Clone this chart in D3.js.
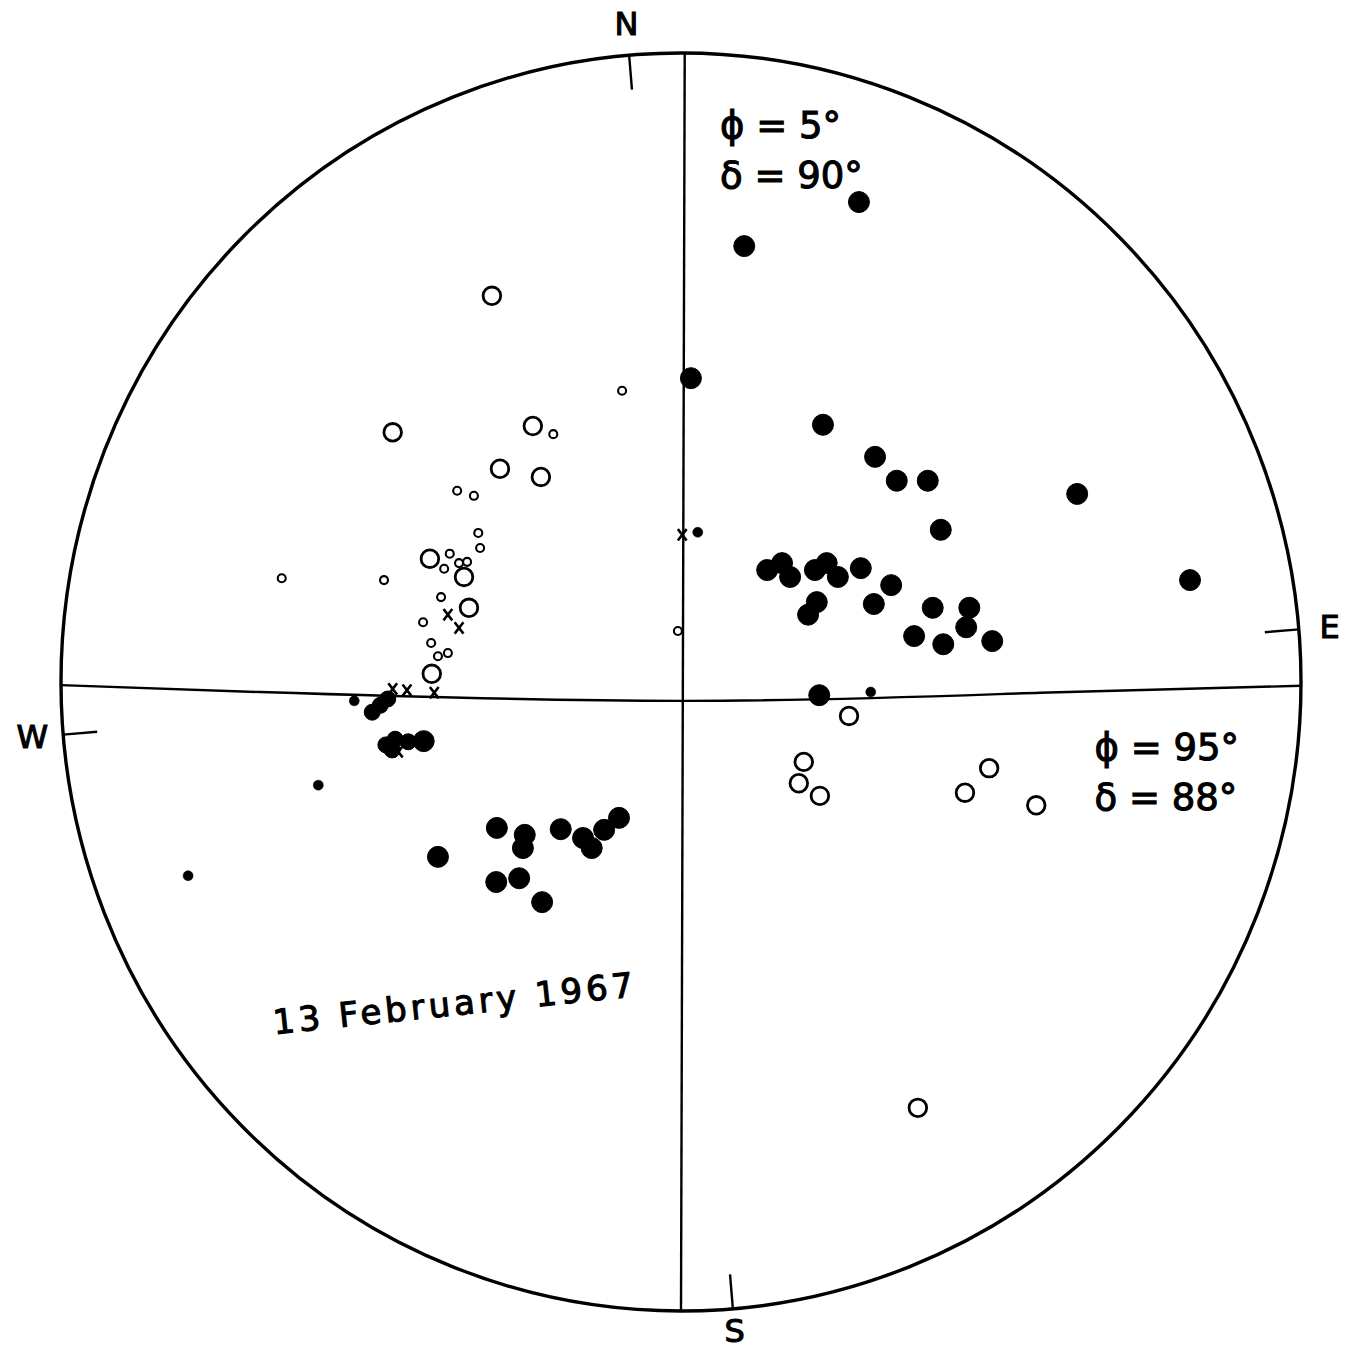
<!DOCTYPE html>
<html>
<head>
<meta charset="utf-8">
<script src="https://cdn.jsdelivr.net/npm/d3@7"></script>
<style>
	body { margin: 0; background: #fff; }
	svg { display: block; }
	text { font-family: "DejaVu Sans", sans-serif; fill: #000; stroke: #000; stroke-width: 1.1px; }
</style>
</head>
<body>
<div id="chart"></div>
<script>

// points in unit-radius coordinates of the net (x east, y north)
var bigDots = [
	[0.287, 0.763], [0.102, 0.693], [0.016, 0.483], [0.229, 0.409], [0.313, 0.358],
	[0.348, 0.320], [0.398, 0.320], [0.639, 0.299], [0.419, 0.242], [0.821, 0.162],
	[0.139, 0.178], [0.163, 0.189], [0.176, 0.167], [0.216, 0.178], [0.235, 0.189],
	[0.253, 0.167], [0.290, 0.181], [0.339, 0.154], [0.219, 0.127], [0.205, 0.107],
	[0.311, 0.124], [0.406, 0.118], [0.465, 0.118], [0.460, 0.087], [0.376, 0.073],
	[0.423, 0.060], [0.502, 0.065], [0.223, -0.021],
	[-0.392, -0.278], [-0.297, -0.232], [-0.252, -0.243], [-0.255, -0.264], [-0.194, -0.234],
	[-0.158, -0.248], [-0.144, -0.264], [-0.124, -0.235], [-0.100, -0.216], [-0.298, -0.318],
	[-0.261, -0.312], [-0.224, -0.350], [-0.415, -0.094]
];

var midDots = [
	[-0.476, -0.100], [-0.461, -0.091], [-0.466, -0.108], [-0.440, -0.095],
	[-0.498, -0.048], [-0.485, -0.037], [-0.473, -0.027]
];

var smallDots = [
	[0.306, -0.016], [0.027, 0.238], [-0.585, -0.164], [-0.795, -0.308], [-0.527, -0.030]
];

var bigRings = [
	[-0.305, 0.614], [-0.465, 0.397], [-0.239, 0.407], [-0.292, 0.339], [-0.226, 0.326],
	[-0.405, 0.196], [-0.350, 0.167], [-0.342, 0.118], [-0.402, 0.013],
	[0.271, -0.054], [0.198, -0.127], [0.190, -0.161], [0.224, -0.181],
	[0.497, -0.137], [0.458, -0.176], [0.573, -0.196], [0.382, -0.677]
];

var smallRings = [
	[-0.095, 0.463], [-0.206, 0.394], [-0.361, 0.304], [-0.334, 0.296], [-0.644, 0.165],
	[-0.479, 0.162], [-0.327, 0.237], [-0.324, 0.213], [-0.373, 0.204], [-0.382, 0.180],
	[-0.358, 0.189], [-0.345, 0.191], [-0.387, 0.135], [-0.416, 0.095], [-0.403, 0.062],
	[-0.392, 0.041], [-0.376, 0.046], [-0.005, 0.081]
];

var crosses = [
	[0.002, 0.234], [-0.376, 0.107], [-0.358, 0.086], [-0.465, -0.011],
	[-0.442, -0.013], [-0.398, -0.017], [-0.456, -0.111]
];

// hand drawn axes of the net
var ewLine = [[-1, -0.005], [-0.679, -0.016], [0, -0.030], [0.579, -0.017], [1, -0.006]];
var nsLine = [[0.006, 1], [0, -1]];

// compass marks, rotated 5 degrees from the drawn axes
var compass = [
	{ label: "N", az: -4.8, r: 1.05 },
	{ label: "E", az: 85.2, r: 1.05 },
	{ label: "S", az: 175.2, r: 1.035 },
	{ label: "W", az: 265.2, r: 1.05 }
];

var notes = [
	{ lines: ["ϕ = 5°", "δ = 90°"], at: [0.063, 0.865] },
	{ lines: ["ϕ = 95°", "δ = 88°"], at: [0.667, -0.124] }
];
var dateLabel = "13 February 1967";


var width = 1349, height = 1358;

var x = d3.scaleLinear().domain([-1, 1]).range([61, 1301]);
var y = d3.scaleLinear().domain([-1, 1]).range([1311, 53]);

var svg = d3.select("#chart").append("svg")
	.attr("width", width)
	.attr("height", height);

svg.append("rect")
	.attr("width", width)
	.attr("height", height)
	.attr("fill", "#fff");

// primitive circle
svg.append("ellipse")
	.attr("cx", x(0))
	.attr("cy", y(0))
	.attr("rx", x(1) - x(0))
	.attr("ry", y(-1) - y(0))
	.attr("fill", "none")
	.attr("stroke", "#000")
	.attr("stroke-width", 3.4);

var line = d3.line()
	.x(function(d) { return x(d[0]); })
	.y(function(d) { return y(d[1]); })
	.curve(d3.curveNatural);

svg.append("path")
	.attr("d", line(ewLine))
	.attr("fill", "none")
	.attr("stroke", "#000")
	.attr("stroke-width", 2.4);

svg.append("path")
	.attr("d", line(nsLine))
	.attr("fill", "none")
	.attr("stroke", "#000")
	.attr("stroke-width", 2.4);

// compass ticks and letters
function polar(r, az)
{
	var a = az * Math.PI / 180;
	return [r * Math.sin(a), r * Math.cos(a)];
}

var marks = svg.append("g").attr("class", "compass");

marks.selectAll("line")
	.data(compass)
	.enter().append("line")
	.attr("x1", function(d) { return x(polar(0.945, d.az)[0]); })
	.attr("y1", function(d) { return y(polar(0.945, d.az)[1]); })
	.attr("x2", function(d) { return x(polar(1.0, d.az)[0]); })
	.attr("y2", function(d) { return y(polar(1.0, d.az)[1]); })
	.attr("stroke", "#000")
	.attr("stroke-width", 2.4);

marks.selectAll("text")
	.data(compass)
	.enter().append("text")
	.attr("x", function(d) { return x(polar(d.r, d.az)[0]); })
	.attr("y", function(d) { return y(polar(d.r, d.az)[1]); })
	.attr("text-anchor", "middle")
	.attr("dominant-baseline", "central")
	.style("font-size", "32px")
	.text(function(d) { return d.label; });

// plotted points
var pts = svg.append("g").attr("class", "points");

function dots(data, r, filled, sw)
{
	pts.append("g").selectAll("circle")
		.data(data)
		.enter().append("circle")
		.attr("cx", function(d) { return x(d[0]); })
		.attr("cy", function(d) { return y(d[1]); })
		.attr("r", r)
		.attr("fill", filled ? "#000" : "none")
		.attr("stroke", "#000")
		.attr("stroke-width", sw);
}

dots(bigDots, 10.5, true, 1);
dots(midDots, 8, true, 1);
dots(smallDots, 5, true, 0.5);
dots(bigRings, 8.8, false, 2.8);
dots(smallRings, 4, false, 2.1);

// small hand-drawn "x"
var xMark = {
	draw: function(ctx, size)
	{
		var w = Math.sqrt(size) / 2.6, h = Math.sqrt(size) / 2;
		ctx.moveTo(-w, -h); ctx.lineTo(w, h);
		ctx.moveTo(w, -h); ctx.lineTo(-w, h);
	}
};

pts.append("g").selectAll("path")
	.data(crosses)
	.enter().append("path")
	.attr("d", d3.symbol().type(xMark).size(130))
	.attr("transform", function(d) { return "translate(" + x(d[0]) + "," + y(d[1]) + ")"; })
	.attr("fill", "none")
	.attr("stroke", "#000")
	.attr("stroke-width", 2.6);

// annotations
notes.forEach(function(n)
{
	var t = svg.append("text")
		.attr("x", x(n.at[0]))
		.attr("y", y(n.at[1]))
		.style("font-size", "37px");

	t.selectAll("tspan")
		.data(n.lines)
		.enter().append("tspan")
		.attr("x", x(n.at[0]))
		.attr("dy", function(d, i) { return i ? 50 : 0; })
		.text(function(d) { return d; });
});

svg.append("text")
	.attr("transform", "translate(" + x(-0.656) + "," + y(-0.560) + ") rotate(-6)")
	.attr("textLength", 362)
	.attr("lengthAdjust", "spacing")
	.style("font-size", "34px")
	.text(dateLabel);

</script>
</body>
</html>
